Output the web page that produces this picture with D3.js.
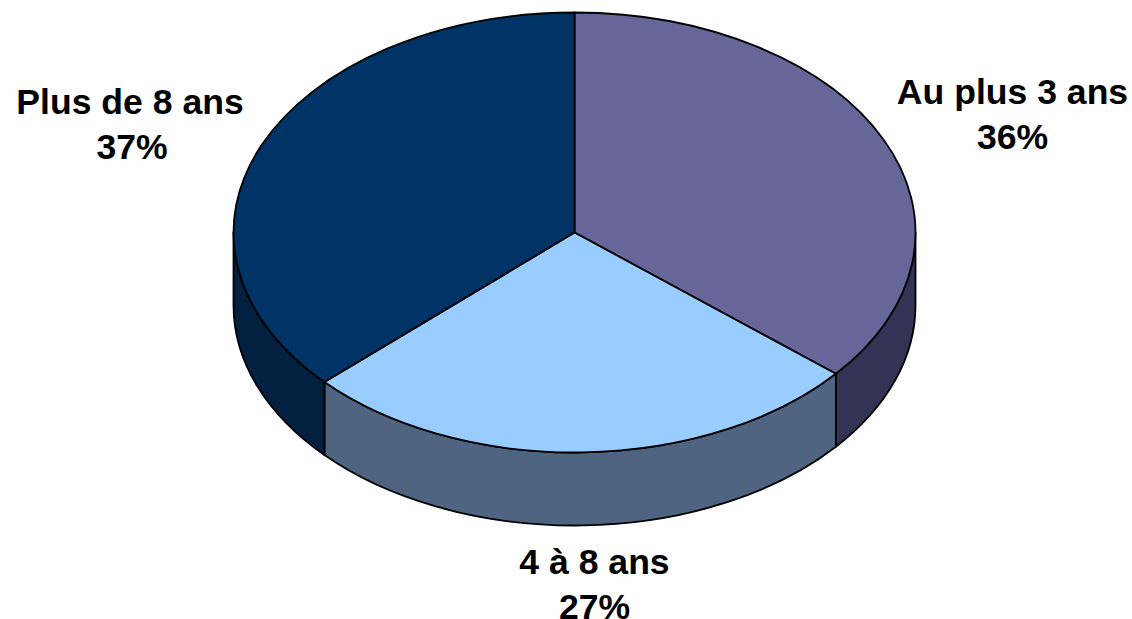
<!DOCTYPE html>
<html><head><meta charset="utf-8">
<script src="https://cdnjs.cloudflare.com/ajax/libs/d3/7.8.5/d3.min.js"></script>
<style>html,body{margin:0;padding:0;background:#fff;overflow:hidden}svg{display:block}text{font-family:"Liberation Sans",Arial,sans-serif;font-weight:bold;font-size:35.6px;fill:#000;text-anchor:middle}</style>
</head><body><svg id="c" width="1132" height="619"></svg>
<script>
const categories=["Au plus 3 ans","4 à 8 ans","Plus de 8 ans"];
const percents=[36.1,27.0,36.9];
const topColors=["#666699","#99CCFF","#003366"];
const wallColors=["#333355","#4F6480","#02203F"];
const labelX=[1012.5,594.5,130];
const labelY=[104,574,114];
const cx=574.5,cy=232.5,rx=341,ry=220,depth=73;
const svg=d3.select("#c");
const arcs=d3.pie().sort(null).value(d=>d)(percents);
const px=a=>cx+rx*Math.sin(a),py=a=>cy-ry*Math.cos(a);
const g=svg.append("g").attr("stroke","#000").attr("stroke-width",1.8).attr("stroke-linejoin","round");
arcs.forEach((d,i)=>{
  const a0=Math.max(d.startAngle,Math.PI/2),a1=Math.min(d.endAngle,Math.PI*1.5);
  if(a1<=a0)return;
  const p=`M${px(a0)},${py(a0)}A${rx},${ry} 0 0 1 ${px(a1)},${py(a1)}L${px(a1)},${py(a1)+depth}A${rx},${ry} 0 0 0 ${px(a0)},${py(a0)+depth}Z`;
  g.append("path").attr("d",p).attr("fill",wallColors[i]);
});
arcs.forEach((d,i)=>{
  const large=d.endAngle-d.startAngle>Math.PI?1:0;
  const p=`M${cx},${cy}L${px(d.startAngle)},${py(d.startAngle)}A${rx},${ry} 0 ${large} 1 ${px(d.endAngle)},${py(d.endAngle)}Z`;
  g.append("path").attr("d",p).attr("fill",topColors[i]);
});
categories.forEach((c,i)=>{
  const t=svg.append("text").attr("x",labelX[i]).attr("y",labelY[i]);
  t.append("tspan").attr("x",labelX[i]).text(c);
  t.append("tspan").attr("x",labelX[i]+(i===2?2:0)).attr("dy",44.5).text(d3.format(".0f")(percents[i])+"%");
});
</script></body></html>
